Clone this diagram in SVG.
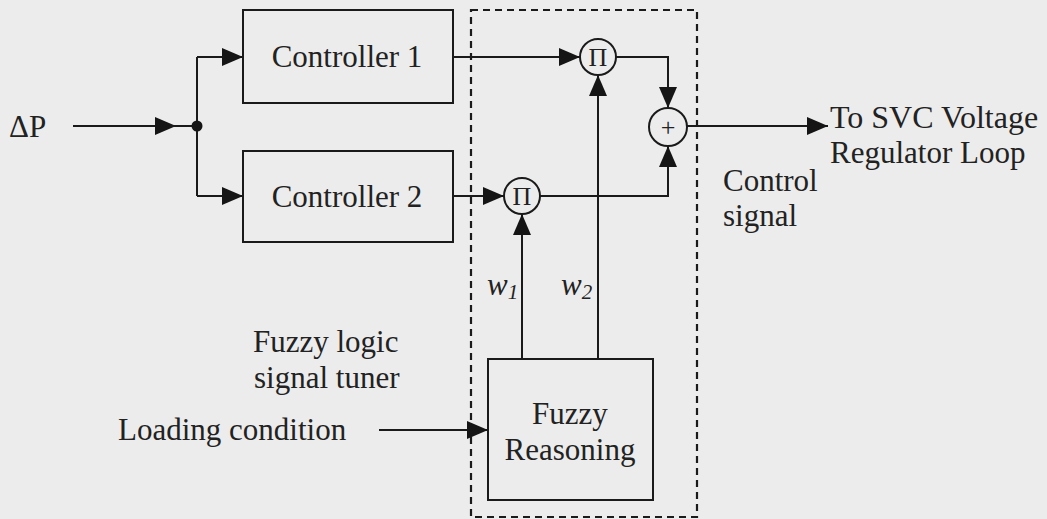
<svg xmlns="http://www.w3.org/2000/svg" width="1047" height="519" viewBox="0 0 1047 519">
<defs>
<marker id="arr" markerUnits="userSpaceOnUse" markerWidth="22" markerHeight="18" refX="21" refY="9" orient="auto">
<path d="M0,0 L21,9 L0,18 Z" fill="#151515"/>
</marker>
<style>
.bg{fill:#ececec}
.box{fill:none;stroke:#1a1a1a;stroke-width:2}
.ln{fill:none;stroke:#1a1a1a;stroke-width:2}
.arr{marker-end:url(#arr)}
.dash{fill:none;stroke:#1a1a1a;stroke-width:2.2;stroke-dasharray:7 5}
.t{font-family:"Liberation Serif","Times New Roman",serif;font-size:31px;fill:#222}
.sym{font-family:"Liberation Serif","Times New Roman",serif;font-size:26px;fill:#222;text-anchor:middle}
.it{font-family:"Liberation Serif","Times New Roman",serif;font-style:italic;fill:#222}
.c{text-anchor:middle}
</style>
</defs>
<rect class="bg" x="0" y="0" width="1047" height="519"/>
<rect id="tuner-boundary" class="dash" x="471" y="10" width="226" height="507"/>
<g id="connectors">
<line class="ln arr" x1="73" y1="126" x2="176" y2="126"/>
<line class="ln" x1="170" y1="126" x2="197" y2="126"/>
<polyline class="ln" points="197,57 197,196"/>
<line class="ln arr" x1="197" y1="57" x2="243" y2="57"/>
<line class="ln arr" x1="197" y1="196" x2="243" y2="196"/>
<line class="ln arr" x1="453" y1="57" x2="580" y2="57"/>
<line class="ln arr" x1="453" y1="196" x2="504" y2="196"/>
<polyline class="ln arr" points="616,57 668,57 668,108"/>
<polyline class="ln arr" points="540,196 668,196 668,146"/>
<line class="ln arr" x1="687" y1="126" x2="828" y2="126"/>
<line class="ln arr" x1="598" y1="359" x2="598" y2="75"/>
<line class="ln arr" x1="522" y1="359" x2="522" y2="214"/>
<line class="ln arr" x1="379" y1="430" x2="488" y2="430"/>
<circle cx="197" cy="126" r="5.5" fill="#151515"/>
</g>
<g id="deltaP"><text class="t" x="9" y="137">ΔP</text></g>
<g id="controller1">
<rect class="box" x="243" y="10" width="210" height="93"/>
<text class="t c" x="347" y="67">Controller 1</text>
</g>
<g id="controller2">
<rect class="box" x="243" y="151" width="210" height="91"/>
<text class="t c" x="347" y="207">Controller 2</text>
</g>
<g id="mult1">
<circle class="box" cx="598" cy="57" r="18"/>
<text class="sym" x="598" y="66">Π</text>
</g>
<g id="mult2">
<circle class="box" cx="522" cy="196" r="18"/>
<text class="sym" x="522" y="205">Π</text>
</g>
<g id="sum">
<circle class="box" cx="668" cy="127" r="19"/>
<text class="sym" x="668" y="136">+</text>
</g>
<g id="fuzzy-reasoning">
<rect class="box" x="488" y="359" width="165" height="141"/>
<text class="t c" x="570" y="424">Fuzzy</text>
<text class="t c" x="570" y="460">Reasoning</text>
</g>
<g id="labels">
<text class="t" x="830" y="128" style="font-size:32px">To SVC Voltage</text>
<text class="t" x="830" y="163">Regulator Loop</text>
<text class="t" x="723" y="191">Control</text>
<text class="t" x="723" y="226">signal</text>
<text class="t" x="253" y="352">Fuzzy logic</text>
<text class="t" x="254" y="388">signal tuner</text>
<text class="t" x="118" y="440">Loading condition</text>
<text class="it" x="487" y="295" style="font-size:31px">w<tspan style="font-size:21px" dy="4">1</tspan></text>
<text class="it" x="561" y="295" style="font-size:31px">w<tspan style="font-size:21px" dy="4">2</tspan></text>
</g>
</svg>
